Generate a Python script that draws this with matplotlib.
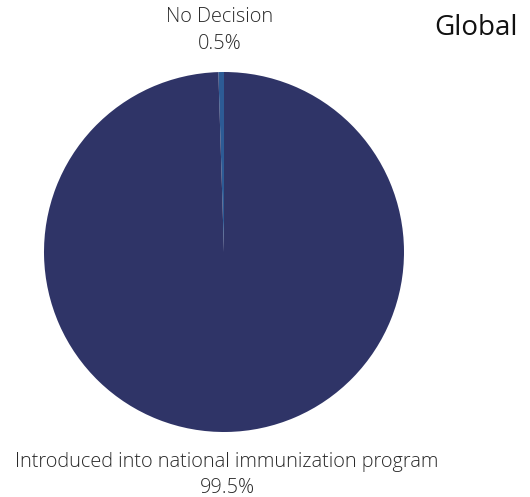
import matplotlib
matplotlib.use('Agg')
import matplotlib.pyplot as plt

labels = ['No Decision', 'Introduced into national immunization program']
values = [0.5, 99.5]
pct_labels = ['0.5%', '99.5%']
colors = ['#2d5b95', '#2f3467']

W, H = 530, 497
fig = plt.figure(figsize=(W / 100, H / 100), dpi=100)

# pie box: center (224, 252) px, radius 180 px
ax = fig.add_axes([(224 - 180) / W, (H - 432) / H, 360 / W, 360 / H])
ax.pie(values, colors=colors, startangle=90, counterclock=True,
       wedgeprops=dict(linewidth=0))
ax.set_xlim(-1, 1)
ax.set_ylim(-1, 1)
ax.set_aspect('auto')
ax.axis('off')

def px(x, y):
    return x / W, 1 - y / H

txt = dict(family='Open Sans', fontweight='light', fontsize=14.3,
           color='#2a2a2a', ha='center', va='center')
fig.text(*px(220, 17), labels[0], **txt)
fig.text(*px(220, 44), pct_labels[0], **txt)
fig.text(*px(227, 462), labels[1], **txt)
fig.text(*px(227, 488), pct_labels[1], **txt)

fig.text(*px(518, 28), 'Global', family='Open Sans', fontweight='medium',
         fontsize=20, color='#111111', ha='right', va='center')

fig.savefig('out.png', dpi=100)
